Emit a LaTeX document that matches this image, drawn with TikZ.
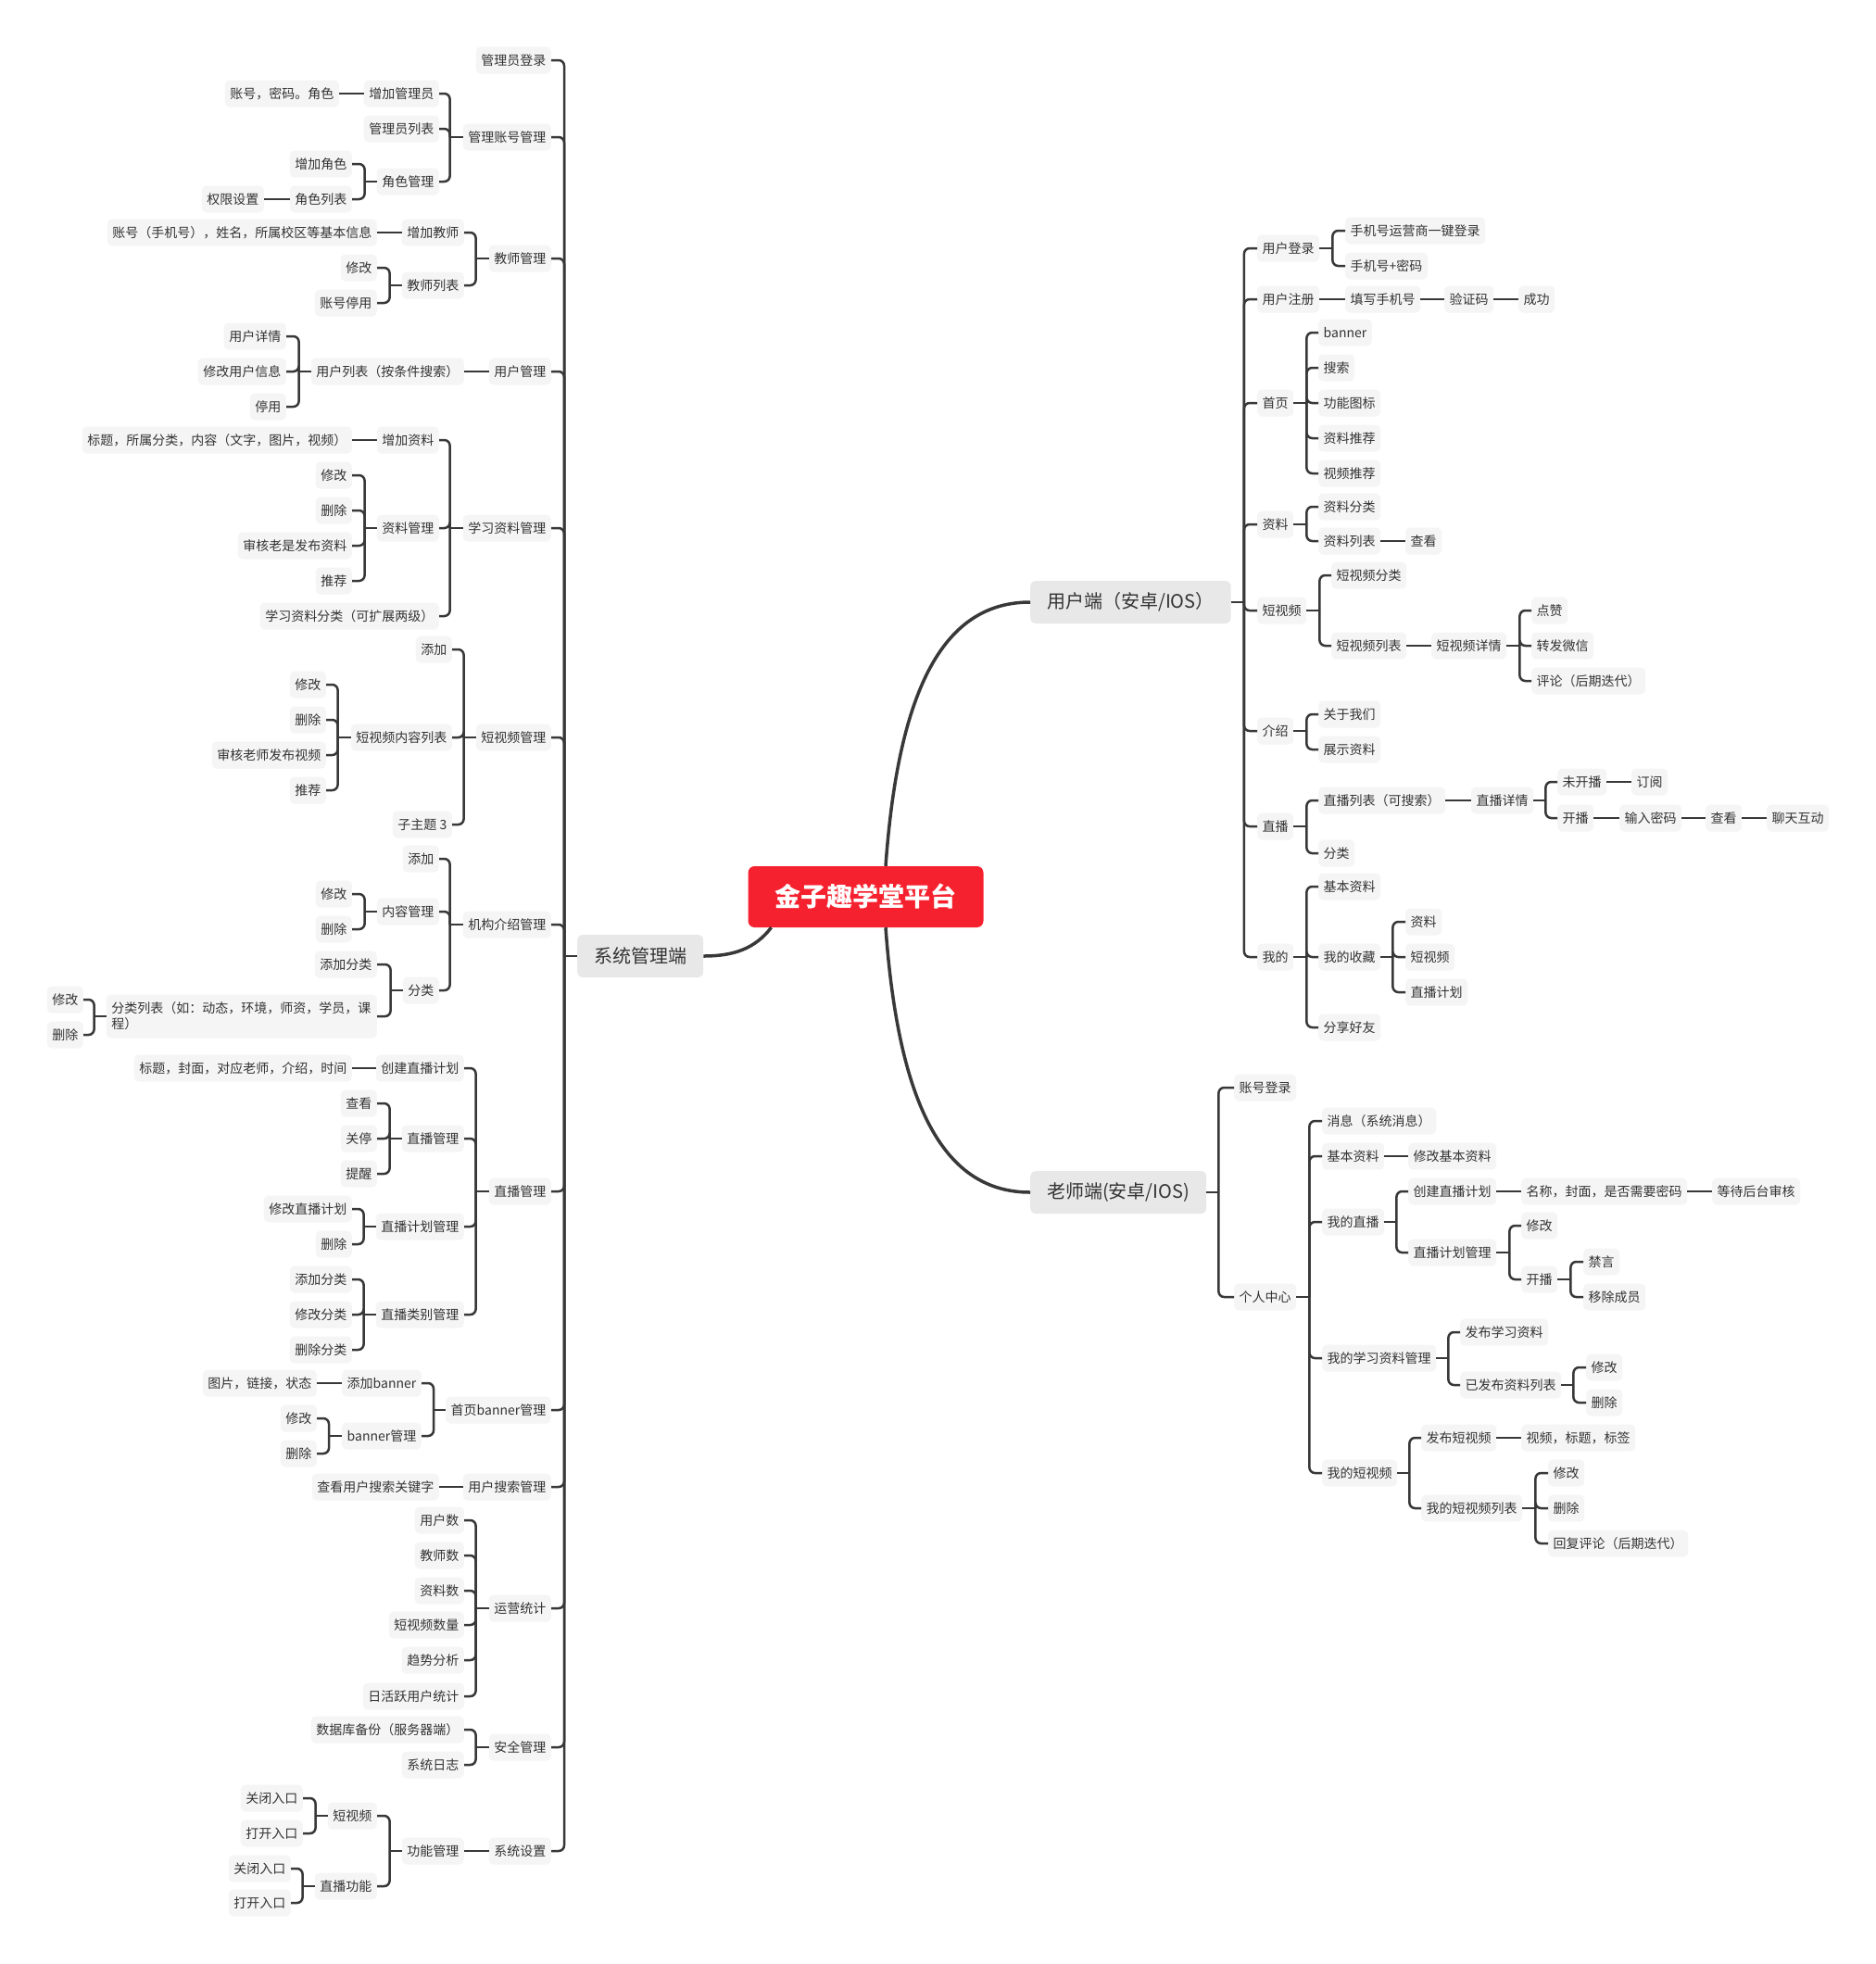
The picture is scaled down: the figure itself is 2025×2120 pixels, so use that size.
\documentclass[tikz,border=0pt]{standalone}
\usepackage{fontspec}
\setmainfont{Noto Sans CJK SC}
\usepackage{tikz}

\definecolor{topicgray}{RGB}{245,245,245}
\definecolor{branchgray}{RGB}{232,232,232}
\definecolor{textgray}{RGB}{51,51,51}
\definecolor{linegray}{RGB}{56,56,56}
\definecolor{rootred}{RGB}{246,33,46}

% bracket from a parent to its children (left and right side)
\newcommand\lfork[3]{%
  \draw[link] (#1.west) -- ++(-#2,0) coordinate (#1-j);
  \foreach \kid in {#3} \draw[link] (#1-j) |- (\kid.east);}
\newcommand\rfork[3]{%
  \draw[link] (#1.east) -- ++(#2,0) coordinate (#1-j);
  \foreach \kid in {#3} \draw[link] (#1-j) |- (\kid.west);}

\begin{document}
\begin{tikzpicture}[x=1pt,y=-1pt,
  topic/.style={fill=topicgray,text=textgray,rounded corners=5pt,inner xsep=5.5pt,inner ysep=0pt,minimum height=29pt,font=\fontsize{14}{17}\selectfont},
  lt/.style={topic,anchor=east},
  rt/.style={topic,anchor=west},
  branch/.style={fill=branchgray,text=textgray,rounded corners=6pt,inner xsep=18pt,inner ysep=0pt,minimum height=46pt,font=\fontsize{20}{24}\selectfont},
  rootnode/.style={fill=rootred,text=white,rounded corners=7pt,inner xsep=29pt,inner ysep=0pt,minimum height=66pt,font=\fontsize{28}{32}\selectfont\bfseries},
  link/.style={draw=linegray,line width=2.5pt,rounded corners=6pt},
  trunk/.style={draw=linegray,line width=3.5pt}]
\fill[white] (0,0) rectangle (2025,2120);
\useasboundingbox (0,0) rectangle (2025,2120);

% centre and main branches
\node[rootnode] (root) at (934.5,968) {金子趣学堂平台};
\node[branch,anchor=west] (sys) at (623,1032) {系统管理端};
\node[branch,anchor=west] (usr) at (1112,650) {用户端（安卓/IOS）};
\node[branch,anchor=west] (tch) at (1112,1287) {老师端(安卓/IOS)};
\draw[trunk] ([xshift=21.5pt]root.north) .. controls (970,740) and (1020,650) .. (usr.west);
\draw[trunk] ([xshift=21.5pt]root.south) .. controls (970,1196) and (1020,1287) .. (tch.west);
\draw[trunk] ([xshift=-102pt]root.south) .. controls (815,1024) and (792,1032) .. (sys.east);

% system admin side
\node[lt] (s1) at (595,65) {管理员登录};
\node[lt] (s2) at (595,148) {管理账号管理};
\node[lt] (s3) at (595,279) {教师管理};
\node[lt] (s4) at (595,401) {用户管理};
\node[lt] (s5) at (595,570) {学习资料管理};
\node[lt] (s6) at (595,796) {短视频管理};
\node[lt] (s7) at (595,998) {机构介绍管理};
\node[lt] (s8) at (595,1286) {直播管理};
\node[lt] (s9) at (595,1522) {首页banner管理};
\node[lt] (s10) at (595,1605) {用户搜索管理};
\node[lt] (s11) at (595,1736) {运营统计};
\node[lt] (s12) at (595,1886) {安全管理};
\node[lt] (s13) at (595,1998) {系统设置};

\node[lt] (s2a) at (474,101) {增加管理员};
\node[lt] (s2a1) at (366,101) {账号，密码。角色};
\node[lt] (s2b) at (474,139) {管理员列表};
\node[lt] (s2c) at (474,196) {角色管理};
\node[lt] (s2c1) at (380,177) {增加角色};
\node[lt] (s2c2) at (380,215) {角色列表};
\node[lt] (s2c21) at (285,215) {权限设置};

\node[lt] (s3a) at (501,251) {增加教师};
\node[lt] (s3a1) at (407,251) {账号（手机号），姓名，所属校区等基本信息};
\node[lt] (s3b) at (501,308) {教师列表};
\node[lt] (s3b1) at (407,289) {修改};
\node[lt] (s3b2) at (407,327) {账号停用};

\node[lt] (s4a) at (501,401) {用户列表（按条件搜索）};
\node[lt] (s4a1) at (309,363) {用户详情};
\node[lt] (s4a2) at (309,401) {修改用户信息};
\node[lt] (s4a3) at (309,439) {停用};

\node[lt] (s5a) at (474,475) {增加资料};
\node[lt] (s5a1) at (380,475) {标题，所属分类，内容（文字，图片，视频）};
\node[lt] (s5b) at (474,570) {资料管理};
\node[lt] (s5b1) at (380,513) {修改};
\node[lt] (s5b2) at (380,551) {删除};
\node[lt] (s5b3) at (380,589) {审核老是发布资料};
\node[lt] (s5b4) at (380,627) {推荐};
\node[lt] (s5c) at (474,665) {学习资料分类（可扩展两级）};

\node[lt] (s6a) at (488,701) {添加};
\node[lt] (s6b) at (488,796) {短视频内容列表};
\node[lt] (s6b1) at (352,739) {修改};
\node[lt] (s6b2) at (352,777) {删除};
\node[lt] (s6b3) at (352,815) {审核老师发布视频};
\node[lt] (s6b4) at (352,853) {推荐};
\node[lt] (s6c) at (488,890) {子主题 3};

\node[lt] (s7a) at (474,927) {添加};
\node[lt] (s7b) at (474,984) {内容管理};
\node[lt] (s7b1) at (380,965) {修改};
\node[lt] (s7b2) at (380,1003) {删除};
\node[lt] (s7c) at (474,1069) {分类};
\node[lt] (s7c1) at (407,1041) {添加分类};
\node[lt,text width=281pt,align=left,minimum height=47pt] (s7c2) at (407,1097) {分类列表（如：动态，环境，师资，学员，课\\程）};
\node[lt] (s7c21) at (90,1079) {修改};
\node[lt] (s7c22) at (90,1117) {删除};

\node[lt] (s8a) at (501,1153) {创建直播计划};
\node[lt] (s8a1) at (380,1153) {标题，封面，对应老师，介绍，时间};
\node[lt] (s8b) at (501,1229) {直播管理};
\node[lt] (s8b1) at (407,1191) {查看};
\node[lt] (s8b2) at (407,1229) {关停};
\node[lt] (s8b3) at (407,1267) {提醒};
\node[lt] (s8c) at (501,1324) {直播计划管理};
\node[lt] (s8c1) at (380,1305) {修改直播计划};
\node[lt] (s8c2) at (380,1343) {删除};
\node[lt] (s8d) at (501,1419) {直播类别管理};
\node[lt] (s8d1) at (380,1381) {添加分类};
\node[lt] (s8d2) at (380,1419) {修改分类};
\node[lt] (s8d3) at (380,1457) {删除分类};

\node[lt] (s9a) at (455,1493) {添加banner};
\node[lt] (s9a1) at (342,1493) {图片，链接，状态};
\node[lt] (s9b) at (455,1550) {banner管理};
\node[lt] (s9b1) at (342,1531) {修改};
\node[lt] (s9b2) at (342,1569) {删除};

\node[lt] (s10a) at (474,1605) {查看用户搜索关键字};

\node[lt] (s11a) at (501,1641) {用户数};
\node[lt] (s11b) at (501,1679) {教师数};
\node[lt] (s11c) at (501,1717) {资料数};
\node[lt] (s11d) at (501,1754) {短视频数量};
\node[lt] (s11e) at (501,1792) {趋势分析};
\node[lt] (s11f) at (501,1831) {日活跃用户统计};

\node[lt] (s12a) at (501,1867) {数据库备份（服务器端）};
\node[lt] (s12b) at (501,1905) {系统日志};

\node[lt] (s13a) at (501,1998) {功能管理};
\node[lt] (s13a1) at (407,1960) {短视频};
\node[lt] (s13a11) at (327,1941) {关闭入口};
\node[lt] (s13a12) at (327,1979) {打开入口};
\node[lt] (s13a2) at (407,2036) {直播功能};
\node[lt] (s13a21) at (314,2017) {关闭入口};
\node[lt] (s13a22) at (314,2054) {打开入口};

\lfork{sys}{14}{s1,s2,s3,s4,s5,s6,s7,s8,s9,s10,s11,s12,s13}
\lfork{s2}{14}{s2a,s2b,s2c}
\draw[link] (s2a.west) -- (s2a1.east);
\lfork{s2c}{13}{s2c1,s2c2}
\draw[link] (s2c2.west) -- (s2c21.east);
\lfork{s3}{14}{s3a,s3b}
\draw[link] (s3a.west) -- (s3a1.east);
\lfork{s3b}{13}{s3b1,s3b2}
\draw[link] (s4.west) -- (s4a.east);
\lfork{s4a}{13}{s4a1,s4a2,s4a3}
\lfork{s5}{14}{s5a,s5b,s5c}
\draw[link] (s5a.west) -- (s5a1.east);
\lfork{s5b}{13}{s5b1,s5b2,s5b3,s5b4}
\lfork{s6}{13}{s6a,s6b,s6c}
\lfork{s6b}{14}{s6b1,s6b2,s6b3,s6b4}
\lfork{s7}{14}{s7a,s7b,s7c}
\lfork{s7b}{13}{s7b1,s7b2}
\lfork{s7c}{13}{s7c1,s7c2}
\lfork{s7c2}{13}{s7c21,s7c22}
\lfork{s8}{14}{s8a,s8b,s8c,s8d}
\draw[link] (s8a.west) -- (s8a1.east);
\lfork{s8b}{13}{s8b1,s8b2,s8b3}
\lfork{s8c}{13}{s8c1,s8c2}
\lfork{s8d}{13}{s8d1,s8d2,s8d3}
\lfork{s9}{13}{s9a,s9b}
\draw[link] (s9a.west) -- (s9a1.east);
\lfork{s9b}{14}{s9b1,s9b2}
\draw[link] (s10.west) -- (s10a.east);
\lfork{s11}{14}{s11a,s11b,s11c,s11d,s11e,s11f}
\lfork{s12}{14}{s12a,s12b}
\draw[link] (s13.west) -- (s13a.east);
\lfork{s13a}{13}{s13a1,s13a2}
\lfork{s13a1}{13}{s13a11,s13a12}
\lfork{s13a2}{13}{s13a21,s13a22}

% user app side
\node[rt] (u1) at (1357,268) {用户登录};
\node[rt] (u1a) at (1452,249) {手机号运营商一键登录};
\node[rt] (u1b) at (1452,287) {手机号+密码};
\node[rt] (u2) at (1357,323) {用户注册};
\node[rt] (u2a) at (1452,323) {填写手机号};
\node[rt] (u2b) at (1559,323) {验证码};
\node[rt] (u2c) at (1639,323) {成功};
\node[rt] (u3) at (1357,435) {首页};
\node[rt] (u3a) at (1423,359) {banner};
\node[rt] (u3b) at (1423,397) {搜索};
\node[rt] (u3c) at (1423,435) {功能图标};
\node[rt] (u3d) at (1423,473) {资料推荐};
\node[rt] (u3e) at (1423,511) {视频推荐};
\node[rt] (u4) at (1357,566) {资料};
\node[rt] (u4a) at (1423,547) {资料分类};
\node[rt] (u4b) at (1423,584) {资料列表};
\node[rt] (u4b1) at (1517,584) {查看};
\node[rt] (u5) at (1357,659) {短视频};
\node[rt] (u5a) at (1437,621) {短视频分类};
\node[rt] (u5b) at (1437,697) {短视频列表};
\node[rt] (u5b1) at (1545,697) {短视频详情};
\node[rt] (u5b11) at (1653,659) {点赞};
\node[rt] (u5b12) at (1653,697) {转发微信};
\node[rt] (u5b13) at (1653,735) {评论（后期迭代）};
\node[rt] (u6) at (1357,789) {介绍};
\node[rt] (u6a) at (1423,771) {关于我们};
\node[rt] (u6b) at (1423,809) {展示资料};
\node[rt] (u7) at (1357,892) {直播};
\node[rt] (u7a) at (1423,864) {直播列表（可搜索）};
\node[rt] (u7a1) at (1588,864) {直播详情};
\node[rt] (u7a11) at (1681,844) {未开播};
\node[rt] (u7a111) at (1761,844) {订阅};
\node[rt] (u7a12) at (1681,883) {开播};
\node[rt] (u7a121) at (1748,883) {输入密码};
\node[rt] (u7a122) at (1841,883) {查看};
\node[rt] (u7a123) at (1907,883) {聊天互动};
\node[rt] (u7b) at (1423,921) {分类};
\node[rt] (u8) at (1357,1033) {我的};
\node[rt] (u8a) at (1423,957) {基本资料};
\node[rt] (u8b) at (1423,1033) {我的收藏};
\node[rt] (u8b1) at (1517,995) {资料};
\node[rt] (u8b2) at (1517,1033) {短视频};
\node[rt] (u8b3) at (1517,1071) {直播计划};
\node[rt] (u8c) at (1423,1109) {分享好友};

\rfork{usr}{14}{u1,u2,u3,u4,u5,u6,u7,u8}
\rfork{u1}{14}{u1a,u1b}
\draw[link] (u2.east) -- (u2a.west) (u2a.east) -- (u2b.west) (u2b.east) -- (u2c.west);
\rfork{u3}{14}{u3a,u3b,u3c,u3d,u3e}
\rfork{u4}{14}{u4a,u4b}
\draw[link] (u4b.east) -- (u4b1.west);
\rfork{u5}{14}{u5a,u5b}
\draw[link] (u5b.east) -- (u5b1.west);
\rfork{u5b1}{14}{u5b11,u5b12,u5b13}
\rfork{u6}{14}{u6a,u6b}
\rfork{u7}{14}{u7a,u7b}
\draw[link] (u7a.east) -- (u7a1.west);
\rfork{u7a1}{13}{u7a11,u7a12}
\draw[link] (u7a11.east) -- (u7a111.west);
\draw[link] (u7a12.east) -- (u7a121.west) (u7a121.east) -- (u7a122.west) (u7a122.east) -- (u7a123.west);
\rfork{u8}{14}{u8a,u8b,u8c}
\rfork{u8b}{13}{u8b1,u8b2,u8b3}

% teacher app side
\node[rt] (t1) at (1332,1174) {账号登录};
\node[rt] (t2) at (1332,1400) {个人中心};
\node[rt] (t2a) at (1427,1210) {消息（系统消息）};
\node[rt] (t2b) at (1427,1248) {基本资料};
\node[rt] (t2b1) at (1520,1248) {修改基本资料};
\node[rt] (t2c) at (1427,1319) {我的直播};
\node[rt] (t2c1) at (1520,1286) {创建直播计划};
\node[rt] (t2c11) at (1642,1286) {名称，封面，是否需要密码};
\node[rt] (t2c111) at (1848,1286) {等待后台审核};
\node[rt] (t2c2) at (1520,1352) {直播计划管理};
\node[rt] (t2c21) at (1642,1323) {修改};
\node[rt] (t2c22) at (1642,1381) {开播};
\node[rt] (t2c221) at (1709,1362) {禁言};
\node[rt] (t2c222) at (1709,1400) {移除成员};
\node[rt] (t2d) at (1427,1466) {我的学习资料管理};
\node[rt] (t2d1) at (1576,1438) {发布学习资料};
\node[rt] (t2d2) at (1576,1495) {已发布资料列表};
\node[rt] (t2d21) at (1712,1476) {修改};
\node[rt] (t2d22) at (1712,1514) {删除};
\node[rt] (t2e) at (1427,1590) {我的短视频};
\node[rt] (t2e1) at (1534,1552) {发布短视频};
\node[rt] (t2e11) at (1642,1552) {视频，标题，标签};
\node[rt] (t2e2) at (1534,1628) {我的短视频列表};
\node[rt] (t2e21) at (1671,1590) {修改};
\node[rt] (t2e22) at (1671,1628) {删除};
\node[rt] (t2e23) at (1671,1666) {回复评论（后期迭代）};

\rfork{tch}{13}{t1,t2}
\rfork{t2}{14}{t2a,t2b,t2c,t2d,t2e}
\draw[link] (t2b.east) -- (t2b1.west);
\rfork{t2c}{13}{t2c1,t2c2}
\draw[link] (t2c1.east) -- (t2c11.west) (t2c11.east) -- (t2c111.west);
\rfork{t2c2}{14}{t2c21,t2c22}
\rfork{t2c22}{14}{t2c221,t2c222}
\rfork{t2d}{13}{t2d1,t2d2}
\rfork{t2d2}{13}{t2d21,t2d22}
\rfork{t2e}{13}{t2e1,t2e2}
\draw[link] (t2e1.east) -- (t2e11.west);
\rfork{t2e2}{14}{t2e21,t2e22,t2e23}
\end{tikzpicture}
\end{document}
